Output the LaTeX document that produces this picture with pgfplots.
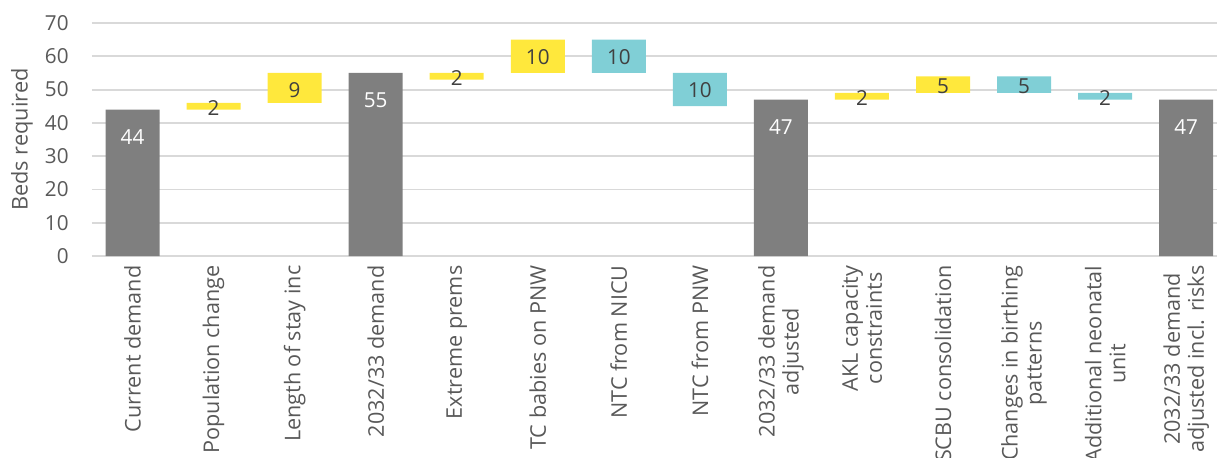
\documentclass[border=0pt]{standalone}
\usepackage{pgfplots}
\pgfplotsset{compat=1.18}
\usepackage{pgfplotstable}
\usepackage{fontspec}
\setmainfont{Open Sans}
\definecolor{cgray}{HTML}{7F7F7F}
\definecolor{cyel}{HTML}{FFE83C}
\definecolor{cteal}{HTML}{80CFD6}
\definecolor{cgrid}{HTML}{D9D9D9}
\definecolor{ctxt}{HTML}{595959}
\definecolor{clab}{HTML}{404040}
\pgfplotstableread{
x base gray yellow teal
0 0 44 0 0
1 44 0 2 0
2 46 0 9 0
3 0 55 0 0
4 53 0 2 0
5 55 0 10 0
6 55 0 0 10
7 45 0 0 10
8 0 47 0 0
9 47 0 2 0
10 49 0 5 0
11 49 0 0 5
12 47 0 0 2
13 0 47 0 0
}\bars
\pgfplotstableread{
x y lab
0 35.7 44
3 46.8 55
8 38.6 47
13 38.6 47
}\whitelabs
\pgfplotstableread{
x y lab
1 44.5 2
2 49.9 9
4 53.5 2
5 59.8 10
6 59.8 10
7 49.8 10
9 47.5 2
10 51.1 5
11 51.1 5
12 47.5 2
}\darklabs
\pgfplotsset{
  common/.style={
    scale only axis, width=843.75pt, height=174.75pt,
    xmin=-0.5, xmax=13.38, ymin=0, ymax=70,
    at={(0,0)}, anchor=south west,
  }
}
\begin{document}
\begin{tikzpicture}[x=0.75pt,y=0.75pt]
\begin{axis}[common,
  ybar stacked, bar width=40.5pt,
  axis line style={draw=none},
  ytick={0,10,...,70},
  ymajorgrids, grid style={cgrid, line width=1.4pt},
  major tick length=0pt,
  xtick={0,...,13},
  xticklabels={Current demand, Population change, Length of stay inc, 2032/33 demand, Extreme prems, TC babies on PNW, NTC from NICU, NTC from PNW, {2032/33 demand\\adjusted}, {AKL capacity\\constraints}, SCBU consolidation, {Changes in birthing\\patterns}, {Additional neonatal\\unit}, {2032/33 demand\\adjusted incl. risks}},
  xticklabel style={rotate=90, anchor=east, align=center, font=\fontsize{16.2}{18}\selectfont, text=ctxt, inner sep=1pt, xshift=-6pt},
  yticklabel style={font=\fontsize{15.5}{17}\selectfont, text=ctxt, anchor=east, xshift=-14pt},
  /pgf/number format/assume math mode=true,
  ylabel={Beds required},
  ylabel style={font=\fontsize{16.3}{18}\selectfont, text=ctxt, at={(axis description cs:-0.0622,0.5)}, anchor=center},
  every axis plot/.append style={draw=none},
]
\addplot[fill=none, draw=none] table[x=x, y=base] {\bars};
\addplot[fill=cgray] table[x=x, y=gray] {\bars};
\addplot[fill=cyel] table[x=x, y=yellow] {\bars};
\addplot[fill=cteal] table[x=x, y=teal] {\bars};
\end{axis}
\begin{axis}[common, hide axis]
\addplot[only marks, mark=none, nodes near coords, point meta=explicit symbolic,
  nodes near coords style={anchor=center, text=white, font=\fontsize{15.5}{17}\selectfont}]
  table[x=x, y=y, meta=lab] {\whitelabs};
\addplot[only marks, mark=none, nodes near coords, point meta=explicit symbolic,
  nodes near coords style={anchor=center, text=clab, font=\fontsize{15.5}{17}\selectfont}]
  table[x=x, y=y, meta=lab] {\darklabs};
\end{axis}
\pgfresetboundingbox
\useasboundingbox (-92,-201) rectangle (1125,256);
\end{tikzpicture}
\end{document}
